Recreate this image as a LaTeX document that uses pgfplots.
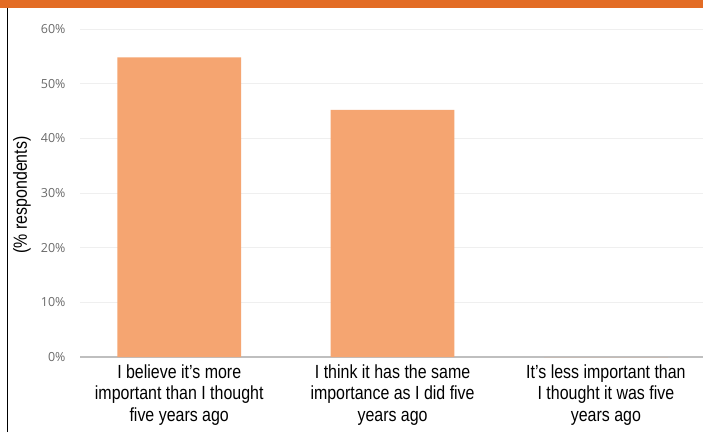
\documentclass[border=0pt]{standalone}
\usepackage{pgfplots}
\pgfplotsset{compat=1.18}
\usepackage{fontspec}
\setmainfont{Liberation Sans}
\newfontfamily\condfont[FakeStretch=0.84]{Liberation Sans}
\newfontfamily\tickfont{Open Sans}
\definecolor{barc}{HTML}{F5A571}
\definecolor{topbar}{HTML}{E36C25}
\definecolor{tickc}{HTML}{6B6B6B}
\definecolor{gridc}{HTML}{EFEFEF}
\definecolor{axisc}{HTML}{BFBFBF}
\begin{document}
\begin{tikzpicture}[x=1pt,y=1pt]
\useasboundingbox (0,0) rectangle (703,432);
\fill[white] (0,0) rectangle (703,432);
\fill[topbar] (0,424) rectangle (703,432);
\draw[black,line width=1pt] (7.5,0) -- (7.5,424);
\begin{axis}[
  at={(80pt,75pt)}, anchor=south west,
  width=623pt, height=328pt, scale only axis,
  ymin=0, ymax=60,
  xmin=-0.465, xmax=2.455,
  ytick={0,10,...,60},
  yticklabel={\pgfmathprintnumber{\tick}\%},
  /pgf/number format/assume math mode=true,
  yticklabel style={font=\tickfont\fontsize{12.5}{15}\selectfont, text=tickc, xshift=-11pt},
  xtick={0,1,2},
  xticklabels={{I believe it’s more\\important than I thought\\five years ago},
               {I think it has the same\\importance as I did five\\years ago},
               {It’s less important than\\I thought it was five\\years ago}},
  xticklabel style={font=\condfont\fontsize{19}{21.5}\selectfont, align=center, text=black, yshift=-4pt},
  ymajorgrids, grid style={gridc, line width=1pt},
  major tick length=0pt,
  separate axis lines,
  axis x line*=bottom,
  axis y line*=left,
  x axis line style={draw=axisc, line width=1.5pt, -},
  y axis line style={draw=none},
  clip=false,
]
\addplot[ybar, bar width=0.58, fill=barc, draw=none, bar shift=0] coordinates {(0,54.8) (1,45.2) (2,0)};
\end{axis}
\node[rotate=90, font=\condfont\fontsize{19}{21}\selectfont] at (22,237) {(\% respondents)};
\end{tikzpicture}
\end{document}
